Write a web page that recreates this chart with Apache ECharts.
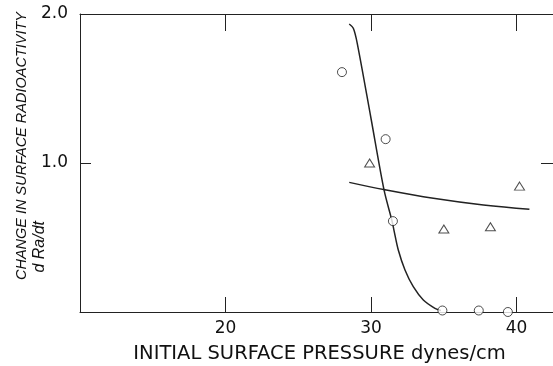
<!DOCTYPE html>
<html>
<head>
<meta charset="utf-8">
<style>html,body{margin:0;padding:0;background:#fff;}#c{width:553px;height:366px;}</style>
<script src="https://cdn.jsdelivr.net/npm/echarts@6/dist/echarts.min.js"></script>
</head>
<body>
<div id="c"></div>
<script>
// Data
var circleX = [28.0, 31.0, 31.5, 34.9, 37.4, 39.4];
var circleY = [1.61, 1.16, 0.61, 0.01, 0.01, 0.0];
var triangleX = [29.9, 35.0, 38.2, 40.2];
var triangleY = [1.0, 0.557, 0.572, 0.845];
var steepCurveX = [28.50, 28.78, 29.05, 29.99, 30.89, 31.44, 31.57, 31.87, 32.33, 32.90, 33.59, 34.39, 34.80];
var steepCurveY = [1.933, 1.904, 1.803, 1.302, 0.819, 0.611, 0.550, 0.416, 0.282, 0.170, 0.081, 0.025, 0.010];
var flatCurveX = [28.5, 30.96, 34.28, 37.72, 40.88];
var flatCurveY = [0.87, 0.82, 0.763, 0.718, 0.69];
var xTicks = [20, 30, 40];
var yTicks = [1, 2];
var xTitle = 'INITIAL SURFACE PRESSURE dynes/cm';
var yTitle1 = 'CHANGE IN SURFACE RADIOACTIVITY';
var yTitle2 = 'd Ra/dt';

function pairs(xs, ys) { return xs.map(function (x, i) { return [x, ys[i]]; }); }

var chart = echarts.init(document.getElementById('c'));
var lineC = '#222';
var axisFont = 'DejaVu Sans';
chart.setOption({
  animation: false,
  backgroundColor: '#fff',
  grid: { left: 80, top: 14, right: 0, bottom: 54, containLabel: false, outerBoundsMode: 'none' },
  xAxis: [{
    type: 'value', min: 10, max: 42.5, position: 'bottom',
    axisLine: { show: true, onZero: false, lineStyle: { color: lineC, width: 1 } },
    axisTick: { show: true, inside: true, length: 15, customValues: xTicks, lineStyle: { color: lineC } },
    axisLabel: { show: true, customValues: xTicks, color: '#111', fontSize: 17, fontFamily: axisFont, margin: 8 },
    splitLine: { show: false },
    name: xTitle, nameLocation: 'middle', nameGap: 32,
    nameTextStyle: { color: '#111', fontSize: 19.5, fontFamily: axisFont, padding: [0, 0, 0, 6] }
  }, {
    type: 'value', min: 10, max: 42.5, position: 'top',
    axisLine: { show: true, onZero: false, lineStyle: { color: lineC, width: 1 } },
    axisTick: { show: true, inside: true, length: 17, customValues: xTicks, lineStyle: { color: lineC } },
    axisLabel: { show: false },
    splitLine: { show: false }
  }],
  yAxis: [{
    type: 'value', min: 0, max: 2, position: 'left',
    axisLine: { show: true, onZero: false, lineStyle: { color: lineC, width: 1 } },
    axisTick: { show: true, inside: true, length: 11, customValues: yTicks, lineStyle: { color: lineC } },
    axisLabel: { show: true, customValues: yTicks, color: '#111', fontSize: 17, fontFamily: axisFont, margin: 12,
      formatter: function (v) { return v.toFixed(1); } },
    splitLine: { show: false }
  }, {
    type: 'value', min: 0, max: 2, position: 'right',
    axisLine: { show: false, onZero: false },
    axisTick: { show: true, inside: true, length: 12, customValues: [1], lineStyle: { color: lineC } },
    axisLabel: { show: false },
    splitLine: { show: false }
  }],
  graphic: [{
    type: 'text', left: 14, top: 12, rotation: Math.PI / 2,
    style: { text: yTitle1, fill: '#111', font: 'italic 14.5px "Liberation Sans"' }
  }, {
    type: 'text', left: 32, top: 221, rotation: Math.PI / 2,
    style: { text: yTitle2, fill: '#111', font: 'italic 16px "Liberation Sans"' }
  }],
  series: [{
    type: 'line', data: pairs(steepCurveX, steepCurveY), smooth: 0.3, showSymbol: false,
    lineStyle: { color: lineC, width: 1.5 }, z: 2
  }, {
    type: 'line', data: pairs(flatCurveX, flatCurveY), smooth: 0.4, showSymbol: false,
    lineStyle: { color: lineC, width: 1.5 }, z: 2
  }, {
    type: 'scatter', data: pairs(circleX, circleY), symbol: 'circle', symbolSize: 9,
    itemStyle: { color: '#fff', borderColor: lineC, borderWidth: 1 }, z: 3
  }, {
    type: 'scatter', data: pairs(triangleX, triangleY), symbol: 'triangle', symbolSize: [10, 8],
    itemStyle: { color: '#fff', borderColor: lineC, borderWidth: 1 }, z: 3
  }]
});
</script>
</body>
</html>
